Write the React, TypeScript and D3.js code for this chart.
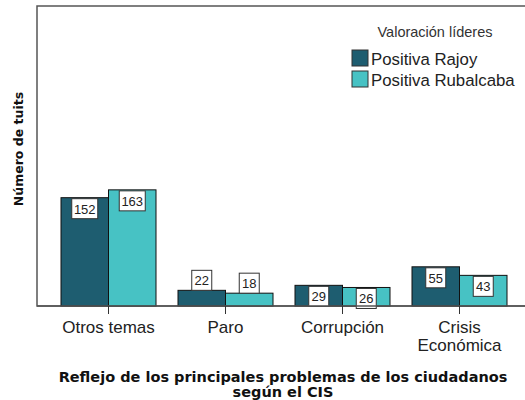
import * as d3 from "d3";

const categories = ["Otros temas", "Paro", "Corrupción", "Crisis Económica"];
const categoryLines = [["Otros temas"], ["Paro"], ["Corrupción"], ["Crisis", "Económica"]];
const series = ["Positiva Rajoy", "Positiva Rubalcaba"];
const rajoy = [152, 22, 29, 55];
const rubalcaba = [163, 18, 26, 43];
const colors = ["#1e5d70", "#47c2c4"];

const W = 525;
const H = 400;
const plot = { left: 37, top: 6, right: 530, bottom: 306 };

export default function App() {
  const x0 = d3.scaleBand<string>().domain(categories).range([50, 518]).padding(0);
  const step = x0.bandwidth();
  const x1 = d3
    .scaleBand<string>()
    .domain(series)
    .range([(step - 95) / 2, (step + 95) / 2])
    .padding(0);
  const y = d3.scaleLinear().domain([0, 421]).range([plot.bottom, plot.top]);
  const values = [rajoy, rubalcaba];
  const font = "'Liberation Sans', Arial, sans-serif";
  const boldFont = "'DejaVu Sans', Verdana, sans-serif";

  return (
    <svg
      width={W}
      height={H}
      style={{ position: "absolute", left: 0, top: 0, background: "#fff" }}
    >
      <rect
        x={plot.left}
        y={plot.top}
        width={plot.right - plot.left}
        height={plot.bottom - plot.top}
        fill="#fff"
        stroke="#555"
        strokeWidth={1.5}
      />
      {categories.map((c, ci) => (
        <g key={c} transform={`translate(${x0(c)},0)`}>
          {series.map((s, si) => {
            const v = values[si][ci];
            const bx = x1(s)!;
            const bw = x1.bandwidth();
            const top = y(v);
            const bh = plot.bottom - top;
            const boxW = v >= 100 ? 26 : 20;
            const boxH = 20;
            const inside = bh >= boxH - 2;
            const boxY = inside ? top + 1 : top - boxH;
            return (
              <g key={s}>
                <rect x={bx} y={top} width={bw} height={bh} fill={colors[si]} stroke="#111" strokeWidth={1} />
                <rect
                  x={bx + bw / 2 - boxW / 2}
                  y={boxY}
                  width={boxW}
                  height={boxH}
                  fill="#fff"
                  stroke="#333"
                  strokeWidth={1}
                />
                <text
                  x={bx + bw / 2}
                  y={boxY + 15}
                  textAnchor="middle"
                  fontFamily={font}
                  fontSize={13}
                  fill="#222"
                >
                  {v}
                </text>
              </g>
            );
          })}
        </g>
      ))}
      <line x1={plot.left} x2={plot.right} y1={plot.bottom} y2={plot.bottom} stroke="#555" strokeWidth={1.5} />
      {categories.map((c, ci) => {
        const cx = x0(c)! + step / 2;
        return (
          <g key={c}>
            <line x1={cx} x2={cx} y1={plot.bottom} y2={plot.bottom + 8} stroke="#333" />
            {categoryLines[ci].map((ln, li) => (
              <text
                key={ln}
                x={cx}
                y={333 + li * 18}
                textAnchor="middle"
                fontFamily={font}
                fontSize={17}
                fill="#222"
              >
                {ln}
              </text>
            ))}
          </g>
        );
      })}
      <text
        transform={`translate(23,149) rotate(-90)`}
        textAnchor="middle"
        fontFamily={boldFont}
        fontWeight="bold"
        fontSize={12.5}
        fill="#111"
      >
        Número de tuits
      </text>
      <text x={283} y={382} textAnchor="middle" fontFamily={boldFont} fontWeight="bold" fontSize={14.5} fill="#111">
        Reflejo de los principales problemas de los ciudadanos
      </text>
      <text x={283} y={397} textAnchor="middle" fontFamily={boldFont} fontWeight="bold" fontSize={14.5} fill="#111">
        según el CIS
      </text>
      <text x={435} y={37} textAnchor="middle" fontFamily={font} fontSize={14.5} fill="#333">
        Valoración líderes
      </text>
      {series.map((s, si) => (
        <g key={s} transform={`translate(352,${50 + si * 21})`}>
          <rect x={0} y={0} width={16} height={16} fill={colors[si]} stroke="#333" />
          <text x={19} y={14.5} fontFamily={font} fontSize={16.8} fill="#222">
            {s}
          </text>
        </g>
      ))}
    </svg>
  );
}
